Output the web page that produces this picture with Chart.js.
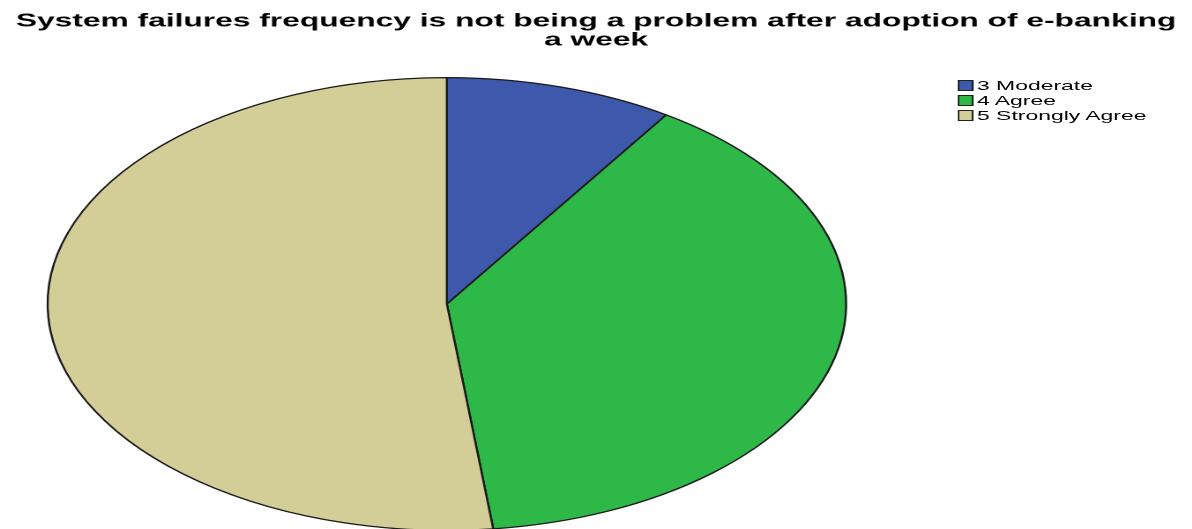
<!DOCTYPE html>
<html>
<head>
<meta charset="utf-8">
<title>System failures frequency</title>
<script src="https://cdn.jsdelivr.net/npm/chart.js@4.4.1/dist/chart.umd.min.js"></script>
<style>
    html, body {
        margin: 0;
        padding: 0;
        background: #fff;
        overflow: hidden;
    }
    /* the chart is laid out narrow, then stretched sideways to fill the page */
    #wrap {
        position: absolute;
        left: 0;
        top: 0;
        width: 676px;
        height: 535px;
        transform: scaleX(1.7635);
        transform-origin: 0 0;
    }
    #legend {
        position: absolute;
        left: 543px;
        top: 78px;
        font-family: "Liberation Sans", Arial, sans-serif;
        font-size: 13px;
        color: #000;
    }
    #legend .item {
        height: 15px;
        line-height: 15px;
        white-space: nowrap;
    }
    #legend .box {
        display: inline-block;
        width: 7px;
        height: 9px;
        border: 1px solid #222;
        margin-right: 2px;
        vertical-align: -1px;
    }
</style>
</head>
<body>
<div id="wrap">
    <canvas id="pieChart" width="676" height="535"></canvas>
    <div id="legend"></div>
</div>
<script>
// categories, answer counts and slice colours
var categories = ["3 Moderate", "4 Agree", "5 Strongly Agree"];
var counts = [5, 21, 28];
var sliceColors = ["#3E58AC", "#2EB848", "#D3CE97"];

var titleLines = [
    "System failures frequency is not being a problem after adoption of e-banking",
    "a week"
];

// empty box on the right so the pie sits left of the legend,
// without narrowing the title the way layout.padding would
var legendSpace = {
    id: "legendSpace",
    beforeInit: function (chart) {
        Chart.layouts.addBox(chart, {
            position: "right",
            weight: 0,
            fullSize: false,
            options: {},
            left: 0, top: 0, right: 0, bottom: 0,
            width: 0, height: 0,
            isHorizontal: function () { return false; },
            update: function (maxWidth, maxHeight) {
                this.width = 169.2;
                this.height = maxHeight;
            },
            draw: function () {}
        });
    }
};

var ctx = document.getElementById("pieChart").getContext("2d");

var pieChart = new Chart(ctx, {
    type: "pie",
    data: {
        labels: categories,
        datasets: [{
            data: counts,
            backgroundColor: sliceColors,
            borderColor: "#1a1a1a",
            borderWidth: 1.2
        }]
    },
    options: {
        responsive: false,
        animation: false,
        devicePixelRatio: 2,
        layout: {
            padding: {
                left: 0,
                right: 0,
                top: 0,
                bottom: 4
            }
        },
        plugins: {
            legend: {
                display: false
            },
            tooltip: {
                enabled: false
            },
            title: {
                display: true,
                text: titleLines,
                color: "#000",
                font: {
                    family: "'Liberation Sans', Arial, sans-serif",
                    size: 18,
                    weight: "bold",
                    lineHeight: 1.056
                },
                padding: {
                    top: 12,
                    bottom: 27
                }
            }
        }
    },
    plugins: [legendSpace]
});

// legend built as html from the chart's own labels
var legendEl = document.getElementById("legend");
pieChart.options.plugins.legend.labels.generateLabels(pieChart).forEach(function (item) {
    var row = document.createElement("div");
    row.className = "item";
    var box = document.createElement("span");
    box.className = "box";
    box.style.backgroundColor = item.fillStyle;
    row.appendChild(box);
    row.appendChild(document.createTextNode(item.text));
    legendEl.appendChild(row);
});
</script>
</body>
</html>
